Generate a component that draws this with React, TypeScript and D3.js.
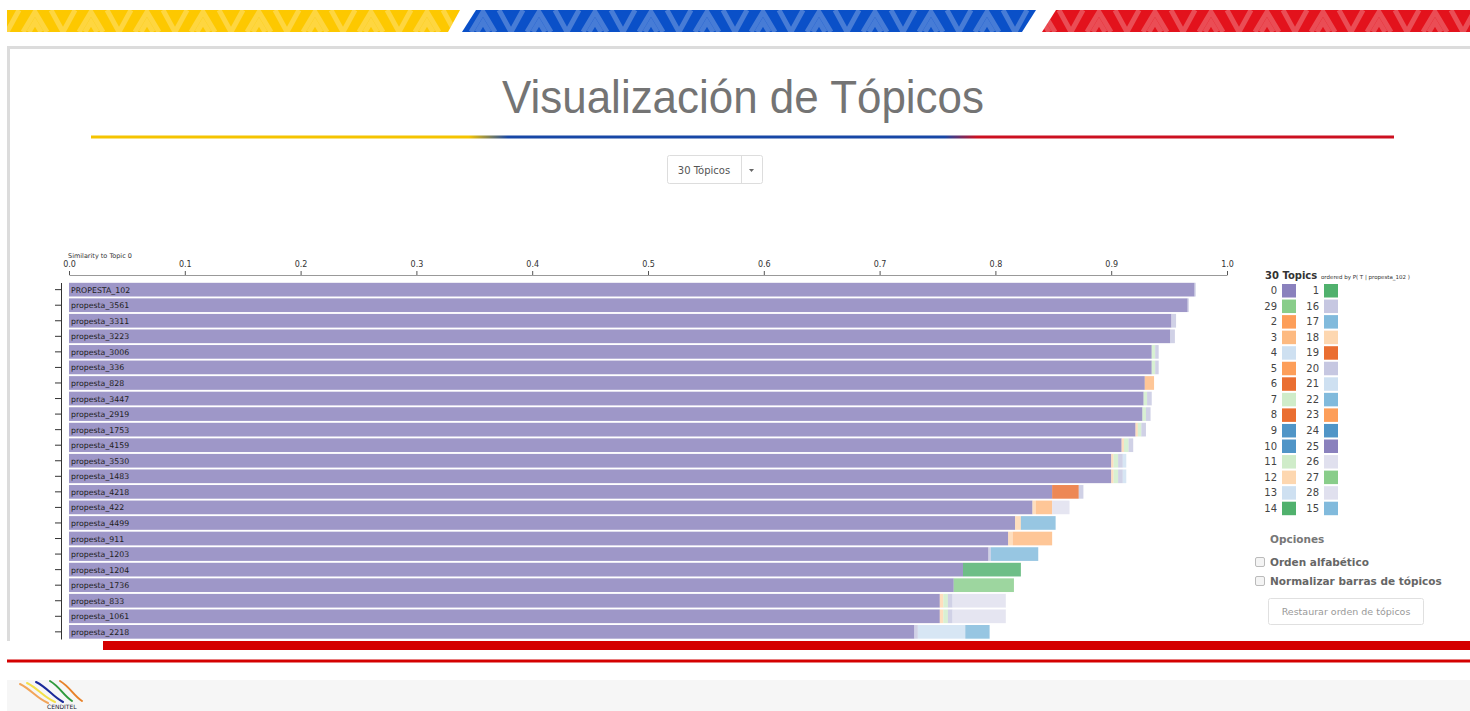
import * as d3 from "d3";
import { useEffect, useRef } from "react";

// documents, most similar first
const docs = [
  "PROPESTA_102", "propesta_3561", "propesta_3311", "propesta_3223", "propesta_3006",
  "propesta_336", "propesta_828", "propesta_3447", "propesta_2919", "propesta_1753",
  "propesta_4159", "propesta_3530", "propesta_1483", "propesta_4218", "propesta_422",
  "propesta_4499", "propesta_911", "propesta_1203", "propesta_1204", "propesta_1736",
  "propesta_833", "propesta_1061", "propesta_2218",
];

// topic share of each document (only the topics that show up)
const topic0 = [0.972, 0.966, 0.952, 0.951, 0.935, 0.935, 0.929, 0.928, 0.927, 0.921, 0.909, 0.9, 0.9, 0.849, 0.832, 0.817, 0.811, 0.794, 0.772, 0.764, 0.752, 0.752, 0.73];
const topic12 = [0, 0, 0, 0, 0, 0, 0, 0, 0, 0.002, 0.002, 0.002, 0.002, 0, 0.003, 0.005, 0.004, 0, 0, 0, 0.003, 0.003, 0];
const topic3 = [0, 0, 0, 0, 0, 0, 0.008, 0, 0, 0, 0, 0, 0, 0, 0.014, 0, 0.034, 0, 0, 0, 0, 0, 0];
const topic6 = [0, 0, 0, 0, 0, 0, 0, 0, 0, 0, 0, 0, 0, 0.023, 0, 0, 0, 0, 0, 0, 0, 0, 0];
const topic7 = [0, 0, 0, 0, 0.003, 0.003, 0, 0.003, 0.003, 0.003, 0.004, 0.004, 0.004, 0, 0, 0, 0, 0, 0, 0, 0.004, 0.004, 0];
const topic16 = [0.001, 0.001, 0.004, 0.004, 0.003, 0.003, 0, 0.004, 0.004, 0.004, 0.004, 0.004, 0.004, 0.004, 0, 0, 0, 0.002, 0, 0, 0.004, 0.004, 0.003];
const topic13 = [0, 0, 0, 0, 0, 0, 0, 0, 0, 0, 0, 0.003, 0.003, 0, 0, 0, 0, 0, 0, 0, 0, 0, 0.041];
const topic17 = [0, 0, 0, 0, 0, 0, 0, 0, 0, 0, 0, 0, 0, 0, 0, 0.03, 0, 0.041, 0, 0, 0, 0, 0.021];
const topic1 = [0, 0, 0, 0, 0, 0, 0, 0, 0, 0, 0, 0, 0, 0, 0, 0, 0, 0, 0.05, 0, 0, 0, 0];
const topic29 = [0, 0, 0, 0, 0, 0, 0, 0, 0, 0, 0, 0, 0, 0, 0, 0, 0, 0, 0, 0.052, 0, 0, 0];
const topic26 = [0, 0, 0, 0, 0, 0, 0, 0, 0, 0, 0, 0, 0, 0, 0.015, 0, 0, 0, 0, 0, 0.046, 0.046, 0];

const stackKeys = ["0", "12", "3", "6", "7", "16", "13", "17", "1", "29", "26"];
const stackSeries: Record<string, number[]> = {
  "0": topic0, "12": topic12, "3": topic3, "6": topic6, "7": topic7, "16": topic16,
  "13": topic13, "17": topic17, "1": topic1, "29": topic29, "26": topic26,
};

// legend, two columns as in the picture
const legendLeft = [0, 29, 2, 3, 4, 5, 6, 7, 8, 9, 10, 11, 12, 13, 14];
const legendRight = [1, 16, 17, 18, 19, 20, 21, 22, 23, 24, 25, 26, 27, 28, 15];
const topicColors = [
  "#756bb1", "#31a354", "#fd8d3c", "#fdae6b", "#c6dbef", "#fd8d3c", "#e6550d", "#c7e9c0",
  "#e6550d", "#3182bd", "#3182bd", "#c7e9c0", "#fdd0a2", "#c6dbef", "#31a354", "#6baed6",
  "#bcbddc", "#6baed6", "#fdd0a2", "#e6550d", "#bcbddc", "#c6dbef", "#6baed6", "#fd8d3c",
  "#3182bd", "#756bb1", "#dadaeb", "#74c476", "#dadaeb", "#74c476",
];
const xTicks = [0, 0.1, 0.2, 0.3, 0.4, 0.5, 0.6, 0.7, 0.8, 0.9, 1.0];

export default function App() {
  const width = 1470;
  const height = 711;
  const xAxisRef = useRef<SVGGElement>(null);
  const yAxisRef = useRef<SVGGElement>(null);

  const x = d3.scaleLinear([0, 1], [69, 1227]);
  const y = d3.scaleBand(docs, [282.5, 639]).paddingInner(0.12).paddingOuter(0.02);

  const table = docs.map((d, i) => {
    const row: any = { doc: d };
    stackKeys.forEach((k) => (row[k] = stackSeries[k][i]));
    return row;
  });
  const stacked = d3.stack<any>().keys(stackKeys)(table);

  useEffect(() => {
    const gx = d3.select(xAxisRef.current!);
    gx.call(d3.axisTop(x).tickValues(xTicks).tickFormat(d3.format(".1f")).tickSize(4).tickSizeOuter(0));
    gx.select(".domain").attr("stroke", "#999");
    gx.selectAll(".tick line").attr("stroke", "#555");
    gx.selectAll("text").attr("font-size", 8).attr("font-family", "DejaVu Sans").attr("fill", "#333").attr("dy", -1);

    const gy = d3.select(yAxisRef.current!);
    gy.call(d3.axisLeft(y).tickFormat(() => "").tickSize(6).tickSizeOuter(0));
    gy.select(".domain").attr("stroke", "#333");
    gy.selectAll(".tick line").attr("stroke", "#333");
  }, []);

  const legendRowY = (i: number) => 283 + i * 15.55;

  return (
    <div style={{ position: "fixed", left: 0, top: 0, width, height, background: "#fff" }}>
      <svg width={width} height={height} style={{ display: "block" }}>
        <defs>
          <pattern id="chev" width="56" height="22" patternUnits="userSpaceOnUse" x="7" y="10">
            <path d="M0,22 L12,0 M16,22 L28,2 L40,22 M44,0 L56,22 M22,22 L28,12 L34,22" stroke="#fff" strokeOpacity="0.25" strokeWidth="5" fill="none" />
          </pattern>
          <linearGradient id="flag" x1="0" x2="1">
            <stop offset="0" stopColor="#f5c400" />
            <stop offset="0.29" stopColor="#f5c400" />
            <stop offset="0.32" stopColor="#1747a6" />
            <stop offset="0.655" stopColor="#1747a6" />
            <stop offset="0.68" stopColor="#cc1020" />
            <stop offset="1" stopColor="#cc1020" />
          </linearGradient>
          <clipPath id="plot">
            <rect x={0} y={240} width={1240} height={401} />
          </clipPath>
        </defs>

        {/* header banner */}
        <polygon points="7,10 460,10 448,32 7,32" fill="#fdc800" />
        <polygon points="476,10 1036,10 1022,32 462,32" fill="#0a50c8" />
        <polygon points="1056,10 1470,10 1470,32 1042,32" fill="#e3121c" />
        <polygon points="7,10 460,10 448,32 7,32" fill="url(#chev)" />
        <polygon points="476,10 1036,10 1022,32 462,32" fill="url(#chev)" />
        <polygon points="1056,10 1470,10 1470,32 1042,32" fill="url(#chev)" />

        {/* panel border */}
        <rect x={7} y={46} width={1463} height={3} fill="#dcdcdc" />
        <rect x={7} y={46} width={3} height={595} fill="#dcdcdc" />

        <text x={743} y={113} textAnchor="middle" fontFamily="'Liberation Sans', sans-serif" fontSize={46} fill="#747474" textLength={482} lengthAdjust="spacingAndGlyphs">
          Visualización de Tópicos
        </text>
        <rect x={91} y={135.5} width={1303} height={3} fill="url(#flag)" />

        {/* dropdown */}
        <rect x={667.5} y={155.5} width={95} height={28} fill="#fff" stroke="#ddd" rx={2} />
        <line x1={741.5} x2={741.5} y1={156} y2={183} stroke="#ddd" />
        <text x={704} y={174} textAnchor="middle" fontFamily="'DejaVu Sans', sans-serif" fontSize={10} fill="#555">30 Tópicos</text>
        <path d="M749,169 L754,169 L751.5,172 Z" fill="#666" />

        {/* chart */}
        <text x={68} y={258} fontFamily="'DejaVu Sans', sans-serif" fontSize={6.5} fill="#333">Similarity to Topic 0</text>
        <g ref={xAxisRef} transform="translate(0,275)" />
        <g clipPath="url(#plot)">
          {stacked.map((s) => (
            <g key={s.key} fill={topicColors[+s.key]} fillOpacity={0.7}>
              {s.map((d, i) =>
                d[1] - d[0] > 0 ? (
                  <rect key={i} x={x(d[0])} y={y(docs[i])!} width={x(d[1]) - x(d[0])} height={y.bandwidth()} />
                ) : null
              )}
            </g>
          ))}
          {docs.map((d) => (
            <text key={d} x={71} y={y(d)! + y.bandwidth() / 2 + 3} fontFamily="'DejaVu Sans', sans-serif" fontSize={7.8} fill="#222">
              {d}
            </text>
          ))}
          <g ref={yAxisRef} transform="translate(61,0)" />
        </g>

        {/* legend */}
        <text x={1265} y={279} fontFamily="'DejaVu Sans', sans-serif" fontSize={10} fontWeight="bold" fill="#333">30 Topics</text>
        <text x={1321} y={279} fontFamily="'DejaVu Sans', sans-serif" fontSize={5.5} fill="#333">ordered by P( T | propesta_102 )</text>
        {legendLeft.map((t, i) => (
          <g key={"l" + t}>
            <text x={1277} y={legendRowY(i) + 11} textAnchor="end" fontFamily="'DejaVu Sans', sans-serif" fontSize={10} fill="#444">{t}</text>
            <rect x={1282} y={legendRowY(i) + 1} width={14} height={13.5} fill={topicColors[t]} fillOpacity={0.85} />
          </g>
        ))}
        {legendRight.map((t, i) => (
          <g key={"r" + t}>
            <text x={1319} y={legendRowY(i) + 11} textAnchor="end" fontFamily="'DejaVu Sans', sans-serif" fontSize={10} fill="#444">{t}</text>
            <rect x={1324} y={legendRowY(i) + 1} width={14} height={13.5} fill={topicColors[t]} fillOpacity={0.85} />
          </g>
        ))}

        {/* options */}
        <text x={1270} y={543} fontFamily="'DejaVu Sans', sans-serif" fontSize={10.5} fontWeight="bold" fill="#777">Opciones</text>
        <rect x={1255.5} y={557.5} width={9} height={9} fill="#f4f4f4" stroke="#bbb" rx={1.5} />
        <text x={1270} y={566} fontFamily="'DejaVu Sans', sans-serif" fontSize={10.5} fontWeight="bold" fill="#666">Orden alfabético</text>
        <rect x={1255.5} y={576.5} width={9} height={9} fill="#f4f4f4" stroke="#bbb" rx={1.5} />
        <text x={1270} y={585} fontFamily="'DejaVu Sans', sans-serif" fontSize={10.5} fontWeight="bold" fill="#666">Normalizar barras de tópicos</text>
        <rect x={1268.5} y={598.5} width={155} height={26} fill="#fff" stroke="#e0e0e0" rx={2} />
        <text x={1346} y={615} textAnchor="middle" fontFamily="'DejaVu Sans', sans-serif" fontSize={9.5} fill="#999">Restaurar orden de tópicos</text>

        {/* footer */}
        <rect x={103} y={641} width={1367} height={9} fill="#d40000" />
        <rect x={7} y={659.5} width={1463} height={3} fill="#d40000" />
        <rect x={7} y={680} width={1463} height={31} fill="#f6f6f6" />
        <g fill="none" strokeWidth={2} strokeLinecap="round">
          <path d="M20,684 C32,690 36,698 48,703" stroke="#f2a55a" />
          <path d="M27,683 C39,689 43,697 55,702" stroke="#f3e04a" />
          <path d="M36,682 C48,688 52,696 63,702" stroke="#1a2a9a" />
          <path d="M50,681 C60,687 63,695 72,701" stroke="#2e9a3c" />
          <path d="M60,681 C70,687 73,695 82,701" stroke="#e8822a" />
        </g>
        <text x={47} y={709} fontFamily="'DejaVu Sans', sans-serif" fontSize={6} fill="#223">CENDITEL</text>
      </svg>
    </div>
  );
}
